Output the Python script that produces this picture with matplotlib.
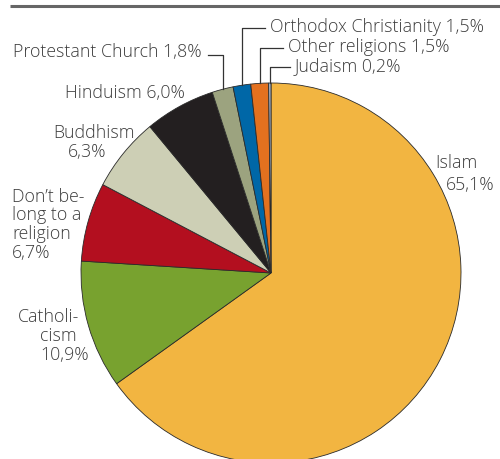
import matplotlib.pyplot as plt
import numpy as np

# --- data ---
religions = ['Islam', 'Catholicism', "Don't belong to a religion", 'Buddhism',
             'Hinduism', 'Protestant Church', 'Orthodox Christianity',
             'Other religions', 'Judaism']
shares = [65.1, 10.9, 6.7, 6.3, 6.0, 1.8, 1.5, 1.5, 0.2]
colors = ['#F2B541', '#78A22F', '#B30F1F', '#CDCFB5', '#231F20',
          '#9CA37F', '#0067A7', '#E3711F', '#A9B7C9']

TXT = '#3d3d3d'
FONT = 'Open Sans'
FS = 12.8

W, H = 500, 460
CX, CY, R = 271, 274, 190   # pie centre / radius in pixels


def P(px, py):
    """pixel position (from top-left) -> data coords of the pie axes"""
    return (px - CX) / R, (CY - py) / R


fig = plt.figure(figsize=(W / 100, H / 100), dpi=100)
ax = fig.add_axes([0, 0, 1, 1])

wedges, _ = ax.pie(shares, colors=colors, startangle=90, counterclock=False,
                   radius=1, wedgeprops=dict(edgecolor='#2a2a2a', linewidth=0.6))

# pie() resets the limits, so set them afterwards
ax.set_aspect('auto')
ax.set_xlim(P(0, 0)[0], P(W, 0)[0])
ax.set_ylim(P(0, H)[1], P(0, 0)[1])
ax.axis('off')

# top rule
ax.plot([P(10, 0)[0], P(W, 0)[0]], [P(0, 6.5)[1]] * 2, color='#666666', lw=2.2,
        solid_capstyle='butt', clip_on=False)


def label(lines, px, py, ha='left', step=18.5):
    for i, s in enumerate(lines):
        x, y = P(px, py + i * step)
        ax.text(x, y, s, ha=ha, va='center', fontsize=FS, color=TXT,
                family=FONT, fontweight='light')


def pct(v):
    return f'{v:.1f}'.replace('.', ',') + '%'


# big slices
label(['Islam'], 435, 163)
label([pct(shares[0])], 446, 185)
label(['Catholi-'], 18, 317)
label(['cism'], 40, 336)
label([pct(shares[1])], 40, 355)
label(["Don\u2019t be-", 'long to a', 'religion', pct(shares[2])], 12, 197, step=18.5)
label(['Buddhism'], 53, 133)
label([pct(shares[3])], 68, 152)
label([f'Hinduism {pct(shares[4])}'], 65, 93)

# small slices with leader lines: (index, label x, label y, name)
small = [(5, 13, 52, 'Protestant Church'),
         (6, 270, 27, 'Orthodox Christianity'),
         (7, 288, 47, 'Other religions'),
         (8, 295, 66, 'Judaism')]
for idx, lx, ly, name in small:
    w = wedges[idx]
    mid = np.deg2rad((w.theta1 + w.theta2) / 2)
    ex, ey = np.cos(mid), np.sin(mid)
    label([f'{name} {pct(shares[idx])}'], lx, ly)
    if idx == 5:
        hx, hy = P(208, ly + 4)
    else:
        hx, hy = P(lx - 5, ly + 2)
    ax.plot([hx, ex, ex], [hy, hy, ey], color='#333333', lw=0.9)

fig.savefig('out.png', dpi=100, facecolor='white')
